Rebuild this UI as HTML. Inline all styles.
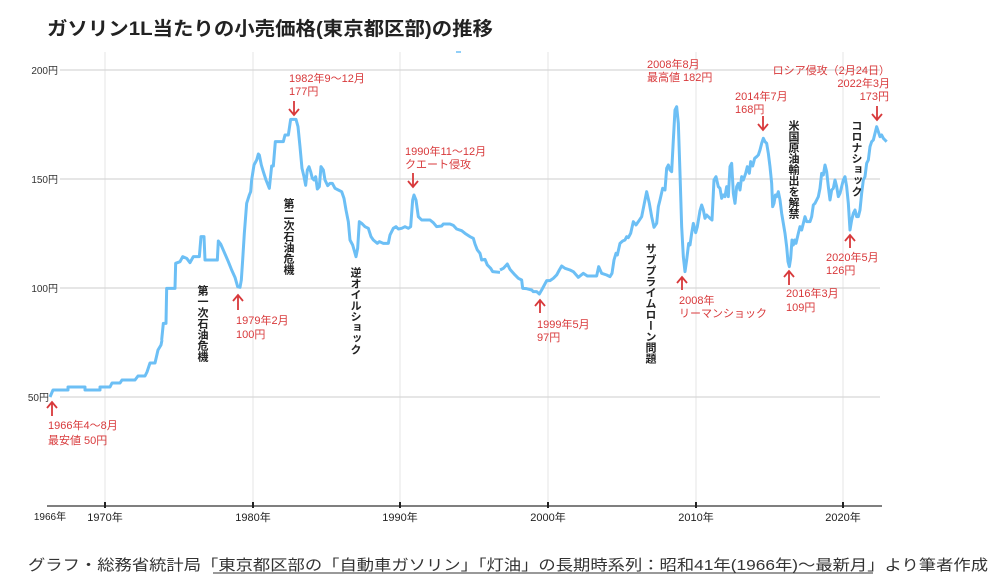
<!DOCTYPE html>
<html><head><meta charset="utf-8">
<style>
html,body{margin:0;padding:0;background:#fff;}
svg{display:block;font-family:"Liberation Sans","Noto Sans CJK JP",sans-serif;}
.r{fill:#d8393b;font-size:11px;}
.v{fill:#222;font-size:11px;font-weight:bold;writing-mode:tb;}
</style></head><body>
<svg width="998" height="583" viewBox="0 0 998 583" xmlns="http://www.w3.org/2000/svg">
<text x="47" y="35" font-size="19" font-weight="bold" fill="#222" textLength="446" lengthAdjust="spacingAndGlyphs">ガソリン1L当たりの小売価格(東京都区部)の推移</text>
<g stroke="#e6e6e6" stroke-width="1">
<line x1="105" y1="52" x2="105" y2="506"/><line x1="253" y1="52" x2="253" y2="506"/>
<line x1="400" y1="52" x2="400" y2="506"/><line x1="548" y1="52" x2="548" y2="506"/>
<line x1="696" y1="52" x2="696" y2="506"/><line x1="843" y1="52" x2="843" y2="506"/>
</g>
<g stroke="#d6d6d6" stroke-width="1.3">
<line x1="60" y1="70" x2="880" y2="70"/><line x1="60" y1="179" x2="880" y2="179"/>
<line x1="60" y1="288" x2="880" y2="288"/><line x1="60" y1="397" x2="880" y2="397"/>
</g>
<g font-size="10" fill="#333" text-anchor="end">
<text x="58" y="74">200円</text><text x="58" y="183">150円</text><text x="58" y="292">100円</text><text x="49" y="401">50円</text>
</g>
<line x1="47" y1="506" x2="882" y2="506" stroke="#555" stroke-width="1.5"/>
<g stroke="#222" stroke-width="2">
<line x1="105" y1="502" x2="105" y2="508"/><line x1="253" y1="502" x2="253" y2="508"/>
<line x1="400" y1="502" x2="400" y2="508"/><line x1="548" y1="502" x2="548" y2="508"/>
<line x1="696" y1="502" x2="696" y2="508"/><line x1="843" y1="502" x2="843" y2="508"/>
</g>
<g font-size="11" fill="#222" text-anchor="middle">
<text x="50" y="520" font-size="10">1966年</text>
<text x="105" y="521">1970年</text><text x="253" y="521">1980年</text><text x="400" y="521">1990年</text>
<text x="548" y="521">2000年</text><text x="696" y="521">2010年</text><text x="843" y="521">2020年</text>
</g>
<g fill="none" stroke="#6cbff5" stroke-width="3" stroke-linejoin="round">
<polyline points="50,397 53,390 68,390 68,387 85,387 85,390 100,390 100,387 110,387 112,383 120,383 122,380 135,380 138,376 145,376 147,372 150,363 155,363 158,350 161,345 162,340"/>
<g transform="translate(0,40) scale(0.33333)">
<polyline vector-effect="non-scaling-stroke" points="485,900 490,850 498,850 500,745 525,745 527,670 540,665 548,650 560,655 570,668 580,650 598,650 603,590 612,590 615,660 652,660 655,603 662,612 672,635 685,665 695,690 705,712 713,740 720,742 724,720 728,660 733,580 740,490 748,465 752,455 755,420 762,375 770,360 775,342 778,345 784,375 790,395 798,420 808,445 815,378 820,378 826,305 850,305 855,285 865,285 872,238 888,238 894,260 900,320 906,385 912,410 917,436 922,390 927,380 932,395 937,415 942,420 947,410 952,447 958,440 963,380 970,390 975,420 983,437 990,430 997,430 1005,445 1015,450 1025,455 1032,475 1038,510 1045,545 1050,600 1058,615 1068,650 1073,625 1078,545 1085,550 1095,560 1105,565 1113,590 1120,600 1132,610 1138,605 1150,610 1165,610 1170,585 1180,565 1188,560 1195,567 1205,565 1215,560 1225,565 1232,560 1238,480 1242,465 1248,480 1255,530 1265,540 1290,540 1300,548 1310,560 1325,558 1330,552 1350,552 1360,556 1370,567 1385,572 1395,580 1410,590 1420,595 1425,612 1432,630 1440,640 1445,660 1455,658 1462,675 1472,685 1478,695 1500,697"/>
</g>
<g transform="translate(500,40) scale(0.33333)">
<polyline vector-effect="non-scaling-stroke" points="0,690 10,685 22,672 30,688 45,705 55,715 65,720 68,745 80,746 95,750 100,755 110,755 118,762 125,750 140,722 150,722 160,715 170,705 178,690 185,678 195,685 210,690 220,695 235,712 250,700 262,708 290,708 296,680 305,700 320,705 330,710 336,700 342,660 348,640 352,645 360,610 368,603 375,600 380,590 385,593 392,580 400,545 408,555 415,545 425,530 432,495 440,455 448,490 455,530 462,562 470,550 475,500 480,480 488,445 495,450 500,385 505,375 510,390 515,395 520,300 525,210 530,200 535,250 540,400 545,560 550,650 555,695 560,660 566,610 570,615 575,580 580,550 587,578 592,560 600,512 605,495 610,510 615,535 620,525 630,535 636,540 642,420 648,410 655,440 660,445 665,475 670,465 675,470 680,440 685,470 690,380 695,370 700,460 705,490 710,440 715,430 720,450 725,410 730,420 737,400 742,380 748,400 752,365 758,378 764,355 770,350 775,345 780,330 785,310 790,295 795,305 800,310 805,340 810,380 815,430 818,500 822,490 826,465 830,470 835,455 840,480 845,520 850,550 855,580 860,620 864,665 868,680 872,655 876,600 880,615 884,600 888,610 895,580 900,560 905,570 910,550 915,530 920,545 930,545 935,530 940,495 945,490 950,480 955,470 960,445 965,400 970,405 975,375 980,395 985,440 990,480 995,450 1000,445 1005,420 1010,440 1015,470 1020,460 1025,440 1030,420 1035,410 1040,440 1045,490 1050,570 1055,540 1060,520 1065,510 1070,530 1075,530 1080,510 1085,460 1090,420 1095,410 1100,370 1105,360 1110,320 1115,305 1120,300 1125,280 1130,260 1135,275 1140,290 1145,285 1150,295 1155,300 1160,305"/>
</g>
<line x1="456" y1="52" x2="461" y2="52" stroke-width="1.5"/>
</g>
<g stroke="#d8393b" stroke-width="1.8" fill="none">
<path d="M294 101V115M289 109L294 115L299 109"/>
<path d="M413 173V187M408 181L413 187L418 181"/>
<path d="M238 310V295M233 301L238 295L243 301"/>
<path d="M52 416V402M47 408L52 402L57 408"/>
<path d="M540 313V300M535 306L540 300L545 306"/>
<path d="M682 290V277M677 283L682 277L687 283"/>
<path d="M763 116V130M758 124L763 130L768 124"/>
<path d="M789 285V271M784 277L789 271L794 277"/>
<path d="M850 248V235M845 241L850 235L855 241"/>
<path d="M877 106V120M872 114L877 120L882 114"/>
</g>
<g class="r">
<text x="289" y="82">1982年9～12月</text><text x="289" y="95">177円</text>
<text x="405" y="155">1990年11～12月</text><text x="405" y="168">クエート侵攻</text>
<text x="236" y="324">1979年2月</text><text x="236" y="338">100円</text>
<text x="48" y="429">1966年4～8月</text><text x="48" y="444">最安値  50円</text>
<text x="537" y="328">1999年5月</text><text x="537" y="341">97円</text>
<text x="647" y="68">2008年8月</text><text x="647" y="81">最高値 182円</text>
<text x="679" y="304">2008年</text><text x="679" y="317">リーマンショック</text>
<text x="735" y="100">2014年7月</text><text x="735" y="113">168円</text>
<text x="786" y="297">2016年3月</text><text x="786" y="311">109円</text>
<text x="826" y="261">2020年5月</text><text x="826" y="274">126円</text>
<text x="890" y="74" text-anchor="end">ロシア侵攻（2月24日）</text>
<text x="890" y="87" text-anchor="end">2022年3月</text>
<text x="889" y="100" text-anchor="end">173円</text>
</g>
<g class="v">
<text x="202" y="285">第一次石油危機</text>
<text x="288" y="198">第二次石油危機</text>
<text x="355" y="267">逆オイルショック</text>
<text x="650" y="243">サブプライムローン問題</text>
<text x="793" y="120">米国原油輸出を解禁</text>
<text x="856" y="120">コロナショック</text>
</g>
<text x="28" y="570" font-size="15" fill="#333" textLength="960" lengthAdjust="spacingAndGlyphs">グラフ・総務省統計局「東京都区部の「自動車ガソリン」「灯油」の長期時系列：昭和41年(1966年)～最新月」より筆者作成</text>
<line x1="213" y1="573" x2="873" y2="573" stroke="#333" stroke-width="1"/>
</svg>
</body></html>
